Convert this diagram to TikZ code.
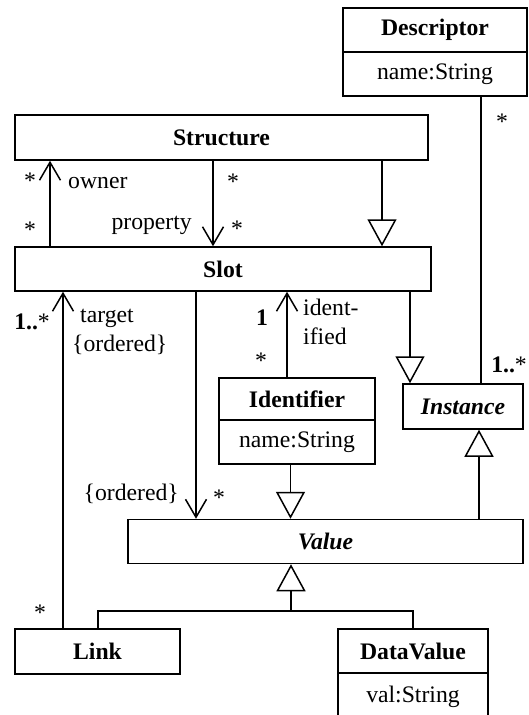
\documentclass[tikz,border=0pt]{standalone}
\usepackage{fontspec}
\setmainfont{Liberation Serif}
\usetikzlibrary{arrows.meta}
\begin{document}
\begin{tikzpicture}[x=1pt,y=-1pt,
  txt/.style={font=\fontsize{23.7}{28}\selectfont},
  cls/.style={txt, draw, line width=1.5pt, inner sep=0pt, fill=white, font=\fontsize{23.7}{28}\selectfont\bfseries},
  abstractcls/.style={cls, font=\fontsize{23.7}{28}\selectfont\bfseries\itshape},
  attr/.style={txt, draw, line width=1.5pt, inner sep=0pt, fill=white},
  mult/.style={txt, inner sep=0pt, font=\fontsize{23.7}{28}\selectfont\bfseries},
  star/.style={txt, inner sep=0pt},
  role/.style={txt, inner sep=0pt},
  line/.style={line width=1.5pt},
  assoc/.style={line, -{Straight Barb[length=18pt,width=21pt]}},
  gen/.style={line, -{Triangle[open,length=27pt,width=29pt]}},
]
\useasboundingbox (0,0) rectangle (528,715);
\clip (0,0) rectangle (528,715);

% classes
\node[cls, minimum width=184pt, minimum height=44pt] (desc) at (435,30) {Descriptor};
\node[attr, minimum width=184pt, minimum height=44pt] (descA) at (435,74) {name:String};
\node[cls, minimum width=413pt, minimum height=45pt] (structure) at (221.5,137.5) {Structure};
\node[cls, minimum width=416pt, minimum height=44pt] (slot) at (223,269) {Slot};
\node[cls, minimum width=156pt, minimum height=42pt] (ident) at (297,399) {Identifier};
\node[attr, minimum width=156pt, minimum height=44pt] (identA) at (297,442) {name:String};
\node[abstractcls, minimum width=120pt, minimum height=45pt] (inst) at (463,406.5) {Instance};
\node[abstractcls, minimum width=395pt, minimum height=44pt] (value) at (325.5,541.5) {Value};
\node[cls, minimum width=165pt, minimum height=45pt] (link) at (97.5,651.5) {Link};
\node[cls, minimum width=150pt, minimum height=44pt] (dv) at (413,651) {DataValue};
\node[attr, minimum width=150pt, minimum height=48pt] (dvA) at (413,697) {val:String};

% columns used by the connectors
\coordinate (cOwner) at (50,0);
\coordinate (cProp) at (213,0);
\coordinate (cSG) at (382,0);
\coordinate (cDesc) at (481,0);
\coordinate (cTarget) at (63,0);
\coordinate (cOrd) at (196,0);
\coordinate (cIdent) at (287,0);
\coordinate (cIdG) at (290.5,0);
\coordinate (cSI) at (410,0);
\coordinate (cIV) at (479,0);
\coordinate (junc) at (291,611);
\coordinate (linkG) at (98,611);

% associations
\draw[assoc] (slot.north -| cOwner) -- (structure.south -| cOwner);
\draw[assoc] (structure.south -| cProp) -- (slot.north -| cProp);
\draw[line] (descA.south -| cDesc) -- (inst.north -| cDesc);
\draw[assoc] (link.north -| cTarget) -- (slot.south -| cTarget);
\draw[assoc] (slot.south -| cOrd) -- (value.north -| cOrd);
\draw[assoc] (ident.north -| cIdent) -- (slot.south -| cIdent);

% generalizations
\draw[gen] (structure.south -| cSG) -- (slot.north -| cSG);
\draw[gen] (slot.south -| cSI) -- (inst.north -| cSI);
\draw[gen] (identA.south -| cIdG) -- (value.north -| cIdG);
\draw[gen] (value.north -| cIV) -- (inst.south -| cIV);
\draw[line] (link.north -| linkG) -- (linkG) -- (dv.north |- linkG) -- (dv.north);
\draw[gen] (junc) -- (value.south -| junc);

% multiplicities and role names
\node[star] (mDesc) at (502,122) {*};
\node[star] (mOwnA) at (30,181) {*};
\node[role, anchor=base west] (rOwner) at (68,188) {owner};
\node[star] (mOwnB) at (30,230) {*};
\node[star] (mPropA) at (233,182) {*};
\node[role, anchor=base east] (rProp) at (192,229) {property};
\node[star] (mPropB) at (237,229) {*};
\node[mult, anchor=base east] (mTarget) at (50,329) {1..\textmd{*}};
\node[role, anchor=base west] (rTarget) at (80,322) {target};
\node[role, anchor=base west] (rTargetOrd) at (72,351) {\{ordered\}};
\node[mult, anchor=base] (mIdOne) at (262,325) {1};
\node[star] (mIdMany) at (261,361) {*};
\node[role, anchor=base west] (rIdent) at (303,315) {ident-};
\node[role, anchor=base west] (rIdent2) at (303,344) {ified};
\node[mult, anchor=base east] (mInst) at (527,372) {1..\textmd{*}};
\node[role, anchor=base east] (rValOrd) at (179,500) {\{ordered\}};
\node[star] (mValMany) at (219,498) {*};
\node[star] (mLink) at (40,613) {*};
\end{tikzpicture}
\end{document}
